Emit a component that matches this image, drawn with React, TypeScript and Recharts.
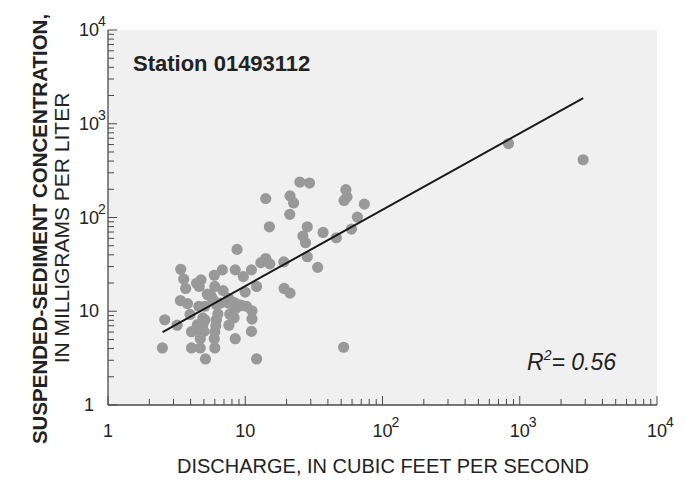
import { CartesianGrid, Scatter, ScatterChart, XAxis, YAxis } from "recharts";

// discharge (ft3/s) and suspended-sediment concentration (mg/L)
const discharge = [
  2.49, 2.59, 3.19, 3.39, 3.56, 3.68, 3.37, 3.79, 3.96, 4.06, 4.06, 4.42, 4.76, 4.62, 4.59, 4.48,
  4.91, 4.91, 5.0, 4.7, 4.7, 5.13, 5.08, 5.29, 5.95, 6.0, 5.66, 6.17, 6.32, 6.17, 6.1, 6.0, 5.95,
  6.0, 6.81, 6.9, 6.6, 7.57, 7.71, 7.6, 8.3, 8.45, 8.72, 8.45, 8.3, 9.1, 9.68, 9.98, 10.2, 11.1,
  11.2, 11.2, 11.1, 12.1, 12.1, 13.0, 14.1, 15.1, 14.1, 15.0, 19.1, 19.2, 21.2, 21.2, 22.5, 21.1,
  25.0, 29.4, 28.3, 26.3, 27.5, 28.3, 33.7, 36.9, 46.1, 54.1, 55.1, 52.5, 52.1, 59.4, 65.6, 73.7,
  828, 2896, 5.38, 5.79, 5.09, 4.55, 7.52, 8.5, 9.5,
];
const concentration = [
  4.06, 8.1, 7.1, 28, 22, 17.5, 13, 12.1, 9.25, 6.05, 4.06, 19.9, 21.6, 18.4, 11.3, 7.2, 8.5, 7.2,
  6.1, 5.1, 4.06, 3.1, 11.3, 15.2, 24.2, 18.4, 14.4, 11.7, 9.33, 8.1, 7.0, 6.0, 5.1, 4.06, 27.6,
  16.6, 12.2, 13.7, 9.3, 7.1, 8.5, 5.1, 45.7, 27.6, 12.4, 11.7, 23.4, 16, 11.3, 27.6, 10.1, 8.25,
  6.1, 18.4, 3.1, 33, 36.5, 32, 159, 79.6, 33.6, 17.5, 15.6, 170, 143, 108, 239, 233, 79.6, 63.4,
  53.8, 38.2, 29.4, 69.3, 60.8, 198, 166, 152, 4.13, 75.2, 101, 139, 615, 413, 14.9, 13.4, 8.07,
  6.3, 12.2, 10.7, 11.5,
];

// regression line end points
const fitDischarge = [2.5, 2900];
const fitConcentration = [6.0, 1880];

const majorTicks = [1, 10, 100, 1000, 10000];
const tickBase = ["1", "10", "10", "10", "10"];
const tickExp = ["", "", "2", "3", "4"];
const minorSteps = [2, 3, 4, 5, 6, 7, 8, 9];
const allTicks = [
  ...majorTicks,
  ...majorTicks.slice(0, -1).flatMap((d) => minorSteps.map((m) => m * d)),
].sort((a, b) => a - b);

const points = discharge.map((q, i) => ({ q, c: concentration[i] }));
const fitData = fitDischarge.map((q, i) => ({ q, c: fitConcentration[i] }));

const axisColor = "#4a4a4a";
const textColor = "#222";
const labelFont = "'Liberation Sans Narrow', 'Liberation Sans', Arial, sans-serif";
const titleFont = "'Liberation Sans', Arial, sans-serif";

interface TickProps {
  x?: number;
  y?: number;
  payload?: { value: number };
}

function TickLabel({ x, y, i }: { x: number; y: number; i: number }) {
  return (
    <g fill={textColor} fontFamily={labelFont}>
      <text x={x} y={y} textAnchor="middle" fontSize={18}>
        {tickBase[i]}
      </text>
      {tickExp[i] && (
        <text x={x + 9} y={y - 10} textAnchor="start" fontSize={14}>
          {tickExp[i]}
        </text>
      )}
    </g>
  );
}

function BottomTick({ x = 0, y = 0, payload }: TickProps) {
  const i = majorTicks.indexOf(payload?.value ?? 0);
  return (
    <g>
      <line x1={x} y1={y} x2={x} y2={y - (i >= 0 ? 9 : 6)} stroke={axisColor} />
      {i >= 0 && <TickLabel x={x} y={y + 32} i={i} />}
    </g>
  );
}

function TopTick({ x = 0, y = 0, payload }: TickProps) {
  const major = majorTicks.includes(payload?.value ?? 0);
  return <line x1={x} y1={y} x2={x} y2={y + (major ? 9 : 6)} stroke={axisColor} />;
}

function LeftTick({ x = 0, y = 0, payload }: TickProps) {
  const i = majorTicks.indexOf(payload?.value ?? 0);
  return (
    <g>
      <line x1={x} y1={y} x2={x + (i >= 0 ? 9 : 6)} y2={y} stroke={axisColor} />
      {i >= 0 && <TickLabel x={x - 19} y={y + 6} i={i} />}
    </g>
  );
}

function RightTick({ x = 0, y = 0, payload }: TickProps) {
  const major = majorTicks.includes(payload?.value ?? 0);
  return <line x1={x} y1={y} x2={x - (major ? 9 : 6)} y2={y} stroke={axisColor} />;
}

const logAxis = {
  type: "number" as const,
  scale: "log" as const,
  domain: [1, 10000],
  ticks: allTicks,
  interval: 0 as const,
  tickSize: 0,
  tickMargin: 0,
  tickLine: false,
  allowDataOverflow: true,
  axisLine: { stroke: axisColor, strokeWidth: 1.3 },
};

export default function App() {
  return (
    <div style={{ position: "absolute", left: 0, top: 0, width: 685, height: 491, background: "#fff" }}>
      <ScatterChart width={685} height={491} margin={{ top: 30, right: 28, bottom: 0, left: 0 }}>
        <CartesianGrid horizontal={false} vertical={false} fill="#f0f0f0" fillOpacity={1} />
        <XAxis {...logAxis} dataKey="q" height={86} tick={<BottomTick />} />
        <XAxis {...logAxis} xAxisId="top" orientation="top" height={0} tick={<TopTick />} />
        <YAxis {...logAxis} dataKey="c" width={108} tick={<LeftTick />} />
        <YAxis {...logAxis} yAxisId="right" orientation="right" width={0} tick={<RightTick />} />
        <Scatter
          data={points}
          isAnimationActive={false}
          shape={(p: { cx?: number; cy?: number }) => <circle cx={p.cx} cy={p.cy} r={5.6} fill="#999" />}
        />
        <Scatter
          data={fitData}
          isAnimationActive={false}
          line={{ stroke: "#1a1a1a", strokeWidth: 2 }}
          shape={() => <g />}
        />
        <text x={133} y={71} fontFamily={titleFont} fontWeight="bold" fontSize={22} fill={textColor}>
          Station 01493112
        </text>
        <text x={527} y={370} fontFamily={titleFont} fontStyle="italic" fontSize={23} fill={textColor}>
          R
          <tspan dy={-10} fontSize={14}>
            2
          </tspan>
          <tspan dy={10}>= 0.56</tspan>
        </text>
        <text
          x={383}
          y={473}
          textAnchor="middle"
          fontFamily={titleFont}
          fontSize={20}
          fill={textColor}
        >
          DISCHARGE, IN CUBIC FEET PER SECOND
        </text>
        <text
          transform="translate(47 229) rotate(-90)"
          textAnchor="middle"
          fontFamily={titleFont}
          fontWeight="bold"
          fontSize={20.5}
          fill={textColor}
        >
          SUSPENDED-SEDIMENT CONCENTRATION,
        </text>
        <text
          transform="translate(69 228) rotate(-90)"
          textAnchor="middle"
          fontFamily={titleFont}
          fontSize={21}
          fill={textColor}
        >
          IN MILLIGRAMS PER LITER
        </text>
      </ScatterChart>
    </div>
  );
}
